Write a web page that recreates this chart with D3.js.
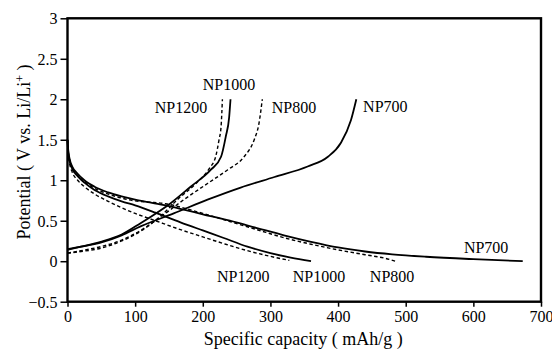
<!DOCTYPE html>
<html>
<head>
<meta charset="utf-8">
<script src="https://cdn.jsdelivr.net/npm/d3@7"></script>
<style>
  html, body { margin: 0; padding: 0; background: #fff; }
  svg { display: block; }
  text { font-family: "Liberation Serif", "Times New Roman", serif; fill: #000; }
</style>
</head>
<body>
<svg id="chart" width="552" height="351"></svg>
<script>
// ---- data (Specific capacity mAh/g, Potential V) ----
const xTicks = [0, 100, 200, 300, 400, 500, 600, 700];
const yTicks = [-0.5, 0, 0.5, 1, 1.5, 2, 2.5, 3];

// discharge curves
const np700Discharge = [[0,1.5],[1,1.38],[3,1.27],[7,1.17],[15,1.08],[25,1.0],[40,0.92],[60,0.85],[80,0.8],[100,0.76],[125,0.72],[150,0.68],[175,0.63],[200,0.58],[240,0.5],[280,0.41],[320,0.32],[360,0.24],[400,0.17],[440,0.12],[480,0.085],[530,0.055],[600,0.025],[673,0.0]];
const np800Discharge = [[0,1.5],[1,1.36],[3,1.25],[7,1.15],[15,1.06],[25,0.98],[40,0.9],[60,0.83],[80,0.78],[100,0.745],[120,0.73],[145,0.71],[175,0.65],[200,0.59],[240,0.49],[280,0.39],[320,0.29],[360,0.21],[400,0.14],[440,0.08],[470,0.035],[485,0.0]];
const np1000Discharge = [[0,1.5],[1,1.35],[3,1.24],[7,1.14],[15,1.05],[25,0.97],[40,0.88],[60,0.8],[80,0.74],[100,0.69],[130,0.6],[167,0.48],[200,0.38],[230,0.29],[266,0.18],[300,0.1],[330,0.045],[360,0.0]];
const np1200Discharge = [[0,1.5],[1,1.33],[3,1.21],[7,1.1],[15,1.0],[25,0.92],[40,0.83],[60,0.74],[80,0.66],[100,0.59],[130,0.5],[167,0.39],[200,0.3],[230,0.22],[266,0.13],[300,0.06],[328,0.01]];

// charge curves
const np700Charge = [[0,0.15],[20,0.18],[49,0.23],[80,0.32],[108,0.43],[157,0.59],[207,0.76],[256,0.91],[306,1.04],[355,1.17],[385,1.29],[404,1.46],[419,1.74],[427,2.0]];
const np800Charge = [[0,0.1],[20,0.13],[49,0.18],[80,0.26],[108,0.38],[138,0.55],[172,0.76],[207,0.96],[237,1.13],[261,1.29],[276,1.5],[283,1.7],[288,2.0]];
const np1000Charge = [[0,0.14],[20,0.18],[49,0.24],[80,0.33],[108,0.47],[153,0.72],[182,0.92],[212,1.13],[227,1.29],[234,1.54],[239,1.78],[241,2.0]];
const np1200Charge = [[0,0.1],[20,0.12],[49,0.16],[80,0.25],[108,0.37],[138,0.56],[165,0.78],[190,0.96],[210,1.15],[219,1.29],[224,1.5],[227,1.66],[229,2.0]];

const seriesNames = ["NP700", "NP800", "NP1000", "NP1200"];
const seriesDashed = [false, true, false, true];
const dischargeSets = [np700Discharge, np800Discharge, np1000Discharge, np1200Discharge];
const chargeSets = [np700Charge, np800Charge, np1000Charge, np1200Charge];

// label anchors (data units)
const topLabels = [["NP1200",129,1.83],["NP1000",200,2.11],["NP800",302,1.83],["NP700",437,1.84]];
const bottomLabels = [["NP1200",221,-0.257],["NP1000",333,-0.257],["NP800",447,-0.257],["NP700",586,0.105]];

// ---- drawing ----
const svg = d3.select("#chart");
const x = d3.scaleLinear().domain([0, 700]).range([67.5, 541]);
const y = d3.scaleLinear().domain([-0.5, 3]).range([301.7, 18.3]);

const line = d3.line().x(d => x(d[0])).y(d => y(d[1])).curve(d3.curveMonotoneX);

const g = svg.append("g");

function drawCurve(data, dashed) {
  g.append("path")
    .attr("d", line(data))
    .attr("fill", "none")
    .attr("stroke", "#000")
    .attr("stroke-width", dashed ? 1.4 : 1.8)
    .attr("stroke-dasharray", dashed ? "3.5,2.5" : null)
    .attr("stroke-linejoin", "round");
}
dischargeSets.forEach((d, i) => drawCurve(d, seriesDashed[i]));
chargeSets.forEach((d, i) => drawCurve(d, seriesDashed[i]));

// axes
const xAxis = d3.axisBottom(x).tickValues(xTicks).tickSize(5).tickSizeOuter(0).tickFormat(d3.format("d"));
const yAxis = d3.axisLeft(y).tickValues(yTicks).tickSize(7).tickSizeOuter(0).tickFormat(d => d3.format("")(d));

const gx = svg.append("g").attr("transform", `translate(0,${y(-0.5)})`).call(xAxis);
const gy = svg.append("g").attr("transform", `translate(${x(0)},0)`).call(yAxis);
[gx, gy].forEach(a => {
  a.select(".domain").remove();
  a.selectAll(".tick line").attr("stroke", "#000").attr("stroke-width", 1.5);
  a.selectAll(".tick text").style("font-family", "Liberation Serif").style("font-size", "16px").attr("fill", "#000");
});
gx.selectAll(".tick text").attr("y", 9).attr("dy", "0.71em");
gy.selectAll(".tick text").attr("x", -10).attr("dy", "0.34em");

// frame
svg.append("rect")
  .attr("x", x(0)).attr("y", y(3))
  .attr("width", x(700) - x(0)).attr("height", y(-0.5) - y(3))
  .attr("fill", "none").attr("stroke", "#000").attr("stroke-width", 2.4);

// curve labels
const labelG = svg.append("g").style("font-size", "16px");
topLabels.concat(bottomLabels).forEach(l => {
  labelG.append("text").attr("x", x(l[1])).attr("y", y(l[2])).text(l[0]);
});

// axis titles
svg.append("text")
  .attr("x", (x(0) + x(700)) / 2 - 1).attr("y", 345)
  .attr("text-anchor", "middle").style("font-size", "18px")
  .text("Specific capacity ( mAh/g )");

const yt = svg.append("text")
  .attr("transform", `translate(30,${152}) rotate(-90)`)
  .attr("text-anchor", "middle").style("font-size", "18px");
yt.append("tspan").text("Potential ( V vs. Li/Li");
yt.append("tspan").attr("dy", -6).style("font-size", "12px").text("+");
yt.append("tspan").attr("dy", 6).text(" )");
</script>
</body>
</html>
